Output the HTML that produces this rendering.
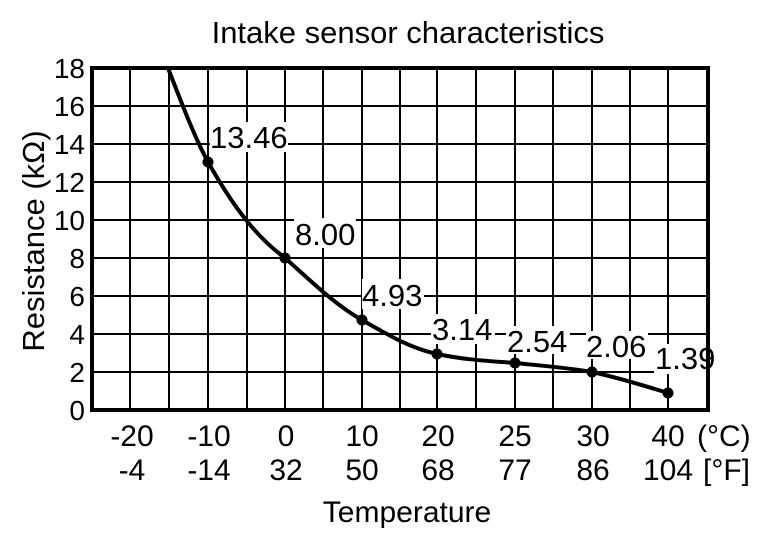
<!DOCTYPE html>
<html><head><style>body{margin:0;background:#fff}</style></head><body>
<svg width="768" height="544" xmlns="http://www.w3.org/2000/svg" font-family="Liberation Sans, sans-serif" fill="#000">
<rect width="768" height="544" fill="#fff"/>
<text x="408" y="43" font-size="31" text-anchor="middle">Intake sensor characteristics</text>
<g stroke="#000" stroke-width="2">
<line x1="130" y1="68" x2="130" y2="410"/><line x1="169" y1="68" x2="169" y2="410"/>
<line x1="208" y1="68" x2="208" y2="410"/><line x1="247" y1="68" x2="247" y2="410"/>
<line x1="285" y1="68" x2="285" y2="410"/><line x1="323" y1="68" x2="323" y2="410"/>
<line x1="362" y1="68" x2="362" y2="410"/><line x1="400" y1="68" x2="400" y2="410"/>
<line x1="437" y1="68" x2="437" y2="410"/><line x1="476" y1="68" x2="476" y2="410"/>
<line x1="515" y1="68" x2="515" y2="410"/><line x1="553" y1="68" x2="553" y2="410"/>
<line x1="592" y1="68" x2="592" y2="410"/><line x1="630" y1="68" x2="630" y2="410"/>
<line x1="668" y1="68" x2="668" y2="410"/>
<line x1="92" y1="106" x2="708" y2="106"/><line x1="92" y1="144" x2="708" y2="144"/>
<line x1="92" y1="182" x2="708" y2="182"/><line x1="92" y1="220" x2="708" y2="220"/>
<line x1="92" y1="258" x2="708" y2="258"/><line x1="92" y1="296" x2="708" y2="296"/>
<line x1="92" y1="334" x2="708" y2="334"/><line x1="92" y1="372" x2="708" y2="372"/>
</g>
<g fill="#fff">
<rect x="210" y="122" width="78" height="30"/><rect x="294" y="218" width="62" height="30"/>
<rect x="362" y="279" width="62" height="30"/><rect x="431" y="314" width="64" height="30"/>
<rect x="506" y="326" width="64" height="28"/><rect x="586" y="331" width="62" height="28"/>
<rect x="654" y="344" width="62" height="30"/>
</g>
<rect x="92" y="68" width="616" height="342" fill="none" stroke="#000" stroke-width="4"/>
<path d="M168,68 C185,112 196,140 208,162 C235,210 258,238 285,258 C310,280 335,305 362,320 C390,336 410,348 437,354 C465,360 490,361 515,363 C545,366 570,368 592,372 C620,378 645,386 668,393" fill="none" stroke="#000" stroke-width="4"/>
<g><circle cx="208" cy="162" r="5.5"/><circle cx="285" cy="258" r="5.5"/><circle cx="362" cy="320" r="5.5"/><circle cx="437" cy="354" r="5.5"/><circle cx="515" cy="363" r="5.5"/><circle cx="592" cy="372" r="5.5"/><circle cx="668" cy="393" r="5.5"/></g>
<g font-size="31">
<text x="210" y="148">13.46</text><text x="295" y="245">8.00</text><text x="362" y="306">4.93</text>
<text x="432" y="340">3.14</text><text x="507" y="352">2.54</text><text x="586" y="357">2.06</text><text x="655" y="369">1.39</text>
</g>
<g font-size="28" text-anchor="end">
<text x="85" y="78">18</text><text x="85" y="116">16</text><text x="85" y="154">14</text><text x="85" y="192">12</text>
<text x="85" y="230">10</text><text x="85" y="268">8</text><text x="85" y="306">6</text><text x="85" y="344">4</text>
<text x="85" y="382">2</text><text x="85" y="420">0</text>
</g>
<text transform="translate(44,241) rotate(-90)" font-size="31" text-anchor="middle">Resistance (kΩ)</text>
<g font-size="30" text-anchor="middle">
<text x="132" y="446">-20</text><text x="209" y="446">-10</text><text x="286" y="446">0</text><text x="362" y="446">10</text>
<text x="438" y="446">20</text><text x="515" y="446">25</text><text x="593" y="446">30</text><text x="668" y="446">40</text>
<text x="132" y="480">-4</text><text x="209" y="480">-14</text><text x="286" y="480">32</text><text x="362" y="480">50</text>
<text x="438" y="480">68</text><text x="515" y="480">77</text><text x="593" y="480">86</text><text x="668" y="480">104</text>
</g>
<text x="697" y="446" font-size="30">(°C)</text>
<text x="703" y="480" font-size="30">[°F]</text>
<text x="407" y="522" font-size="30" text-anchor="middle">Temperature</text>
</svg>
</body></html>
